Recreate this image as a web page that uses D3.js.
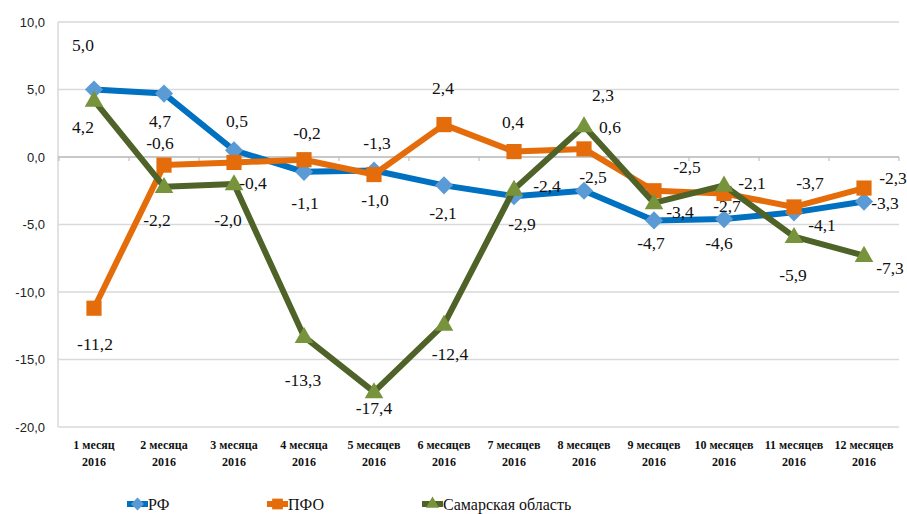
<!DOCTYPE html>
<html>
<head>
<meta charset="utf-8">
<style>
body { margin: 0; background: #fff; }
.grid line { stroke: #d9d9d9; stroke-width: 1.5; }
.ytick text { font-family: "Liberation Sans", Arial, sans-serif; font-size: 13px; fill: #222; }
</style>
</head>
<body>
<svg width="907" height="514"></svg>
<script src="https://d3js.org/d3.v7.min.js"></script>
<script>
var months = ["1 месяц", "2 месяца", "3 месяца", "4 месяца", "5 месяцев", "6 месяцев",
  "7 месяцев", "8 месяцев", "9 месяцев", "10 месяцев", "11 месяцев", "12 месяцев"];
var year = "2016";
var yTicks = [10, 5, 0, -5, -10, -15, -20];

var rf = [5.0, 4.7, 0.5, -1.1, -1.0, -2.1, -2.9, -2.5, -4.7, -4.6, -4.1, -3.3];
var pfo = [-11.2, -0.6, -0.4, -0.2, -1.3, 2.4, 0.4, 0.6, -2.5, -2.7, -3.7, -2.3];
var samara = [4.2, -2.2, -2.0, -13.3, -17.4, -12.4, -2.4, 2.3, -3.4, -2.1, -5.9, -7.3];

// label offsets in px (layout only)
var rfOff = [[-11,-45],[-4,27],[3,-29],[1,31],[1,29],[-1,28],[8,28],[9,-14],[-3,22],[-5,24],[28,13],[21,1]];
var pfoOff = [[1,36],[-4,-22],[19,20],[3,-27],[3,-32],[-1,-37],[-1,-30],[26,-22],[33,-24],[3,12],[16,-24],[29,-10]];
var samOff = [[-11,27],[-7,33],[-6,36],[-1,43],[0,16],[6,29],[33,-4],[19,-31],[26,9],[28,-2],[-1,38],[26,12]];

var serif = "'Liberation Serif', 'Times New Roman', 'DejaVu Serif', serif";

var svg = d3.select("svg");
var mLeft = 59, mRight = 899, mTop = 22, mBottom = 427;

var x = d3.scaleBand().domain(months).range([mLeft, mRight]);
var y = d3.scaleLinear().domain([-20, 10]).range([mBottom, mTop]);
var cx = function(i) { return x(months[i]) + x.bandwidth() / 2; };

// grid
svg.append("g").attr("class", "grid")
  .selectAll("line").data(yTicks).enter().append("line")
  .attr("x1", mLeft - 1).attr("x2", mRight)
  .attr("y1", function(d) { return y(d); }).attr("y2", function(d) { return y(d); });

// left axis line
svg.append("line").attr("x1", mLeft - 1).attr("x2", mLeft - 1).attr("y1", mTop).attr("y2", mBottom)
  .attr("stroke", "#d9d9d9").attr("stroke-width", 1.5);

// zero axis with ticks
svg.append("line").attr("x1", mLeft - 1).attr("x2", mRight).attr("y1", y(0)).attr("y2", y(0))
  .attr("stroke", "#bfbfbf").attr("stroke-width", 1.5);
svg.append("g").selectAll("line").data(months.concat(["end"])).enter().append("line")
  .attr("x1", function(d, i) { return mLeft + i * x.bandwidth(); })
  .attr("x2", function(d, i) { return mLeft + i * x.bandwidth(); })
  .attr("y1", y(0)).attr("y2", y(0) + 4)
  .attr("stroke", "#bfbfbf").attr("stroke-width", 1.2);

// y tick labels
svg.append("g").attr("class", "ytick")
  .selectAll("text").data(yTicks).enter().append("text")
  .attr("x", 45).attr("y", function(d) { return y(d); })
  .attr("dy", "0.35em").attr("text-anchor", "end")
  .text(function(d) { return d.toFixed(1).replace(".", ","); });

// x labels
var xl = svg.append("g");
months.forEach(function(m, i) {
  var t = xl.append("text").attr("text-anchor", "middle")
    .attr("font-family", serif).attr("font-size", 12).attr("font-weight", "bold").attr("fill", "#111");
  t.append("tspan").attr("x", cx(i)).attr("y", 449).text(m);
  t.append("tspan").attr("x", cx(i)).attr("y", 466).text(year);
});

var series = [
  { name: "РФ", values: rf, off: rfOff, line: "#0070c0", mark: "#5b9bd5", shape: "diamond", size: 165 },
  { name: "ПФО", values: pfo, off: pfoOff, line: "#e46c0a", mark: "#e46c0a", shape: "square", size: 230 },
  { name: "Самарская область", values: samara, off: samOff, line: "#4f6228", mark: "#77933c", shape: "triangle", size: 150 }
];

function symPath(s, k) {
  var type = s.shape === "triangle" ? d3.symbolTriangle : d3.symbolSquare;
  return d3.symbol().type(type).size(s.size * k)();
}
function symRot(s) { return s.shape === "diamond" ? " rotate(45)" : ""; }

var line = d3.line().x(function(d, i) { return cx(i); }).y(function(d) { return y(d); });

series.forEach(function(s) {
  svg.append("path").attr("d", line(s.values)).attr("fill", "none")
    .attr("stroke", s.line).attr("stroke-width", 6).attr("stroke-linejoin", "round");
  svg.append("g").selectAll("path").data(s.values).enter().append("path")
    .attr("d", symPath(s, 1))
    .attr("transform", function(d, i) {
      return "translate(" + cx(i) + "," + (y(d) + (s.shape === "triangle" ? 1 : 0)) + ")" + symRot(s);
    })
    .attr("fill", s.mark);
});

series.forEach(function(s) {
  svg.append("g").selectAll("text").data(s.values).enter().append("text")
    .attr("font-family", serif).attr("font-size", 17.5).attr("fill", "#111")
    .attr("text-anchor", "middle").attr("dy", "0.35em")
    .attr("x", function(d, i) { return cx(i) + s.off[i][0]; })
    .attr("y", function(d, i) { return y(d) + s.off[i][1]; })
    .text(function(d) { return d.toFixed(1).replace(".", ","); });
});

// legend
var legX = [127, 267, 422];
var leg = svg.append("g");
series.forEach(function(s, i) {
  var g = leg.append("g").attr("transform", "translate(" + legX[i] + ",504)");
  g.append("line").attr("x1", 0).attr("x2", 21).attr("stroke", s.line).attr("stroke-width", 6);
  g.append("path").attr("d", symPath(s, 0.5))
    .attr("transform", "translate(10.5,0)" + symRot(s)).attr("fill", s.mark);
  g.append("text").attr("x", 21).attr("dy", "0.35em")
    .attr("font-family", serif).attr("font-size", 16).attr("fill", "#111").text(s.name);
});
</script>
</body>
</html>
